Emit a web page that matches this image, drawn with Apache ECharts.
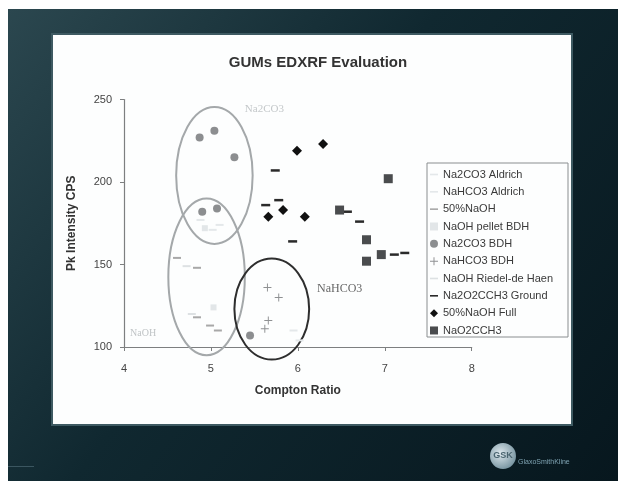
<!DOCTYPE html>
<html>
<head>
<meta charset="utf-8">
<script src="https://cdn.jsdelivr.net/npm/echarts@6/dist/echarts.min.js"></script>
<style>
  html, body { margin: 0; padding: 0; background: #fff; }
  #chart { width: 618px; height: 481px; }
</style>
</head>
<body>
<div id="chart"></div>
<script>
// Compton ratio (x) vs peak intensity in CPS (y) for each sample type
const na2co3Aldrich   = [[4.88, 177], [5.10, 174], [5.02, 171]];
const nahco3Aldrich   = [[5.95, 110], [6.02, 104]];
const naoh50          = [[4.61, 154], [4.84, 148], [4.84, 118], [4.99, 113], [5.08, 110]];
const naohPelletBDH   = [[5.03, 124], [4.93, 172]];
const na2co3BDH       = [[4.87, 227], [5.04, 231], [5.27, 215], [4.90, 182], [5.07, 184], [5.45, 107]];
const nahco3BDH       = [[5.65, 136], [5.78, 130], [5.66, 116], [5.62, 111]];
const naohRiedel      = [[4.72, 149], [4.78, 120]];
const na2o2cch3Ground = [[5.74, 207], [5.78, 189], [5.63, 186], [5.94, 164], [6.57, 182], [6.71, 176], [7.11, 156], [7.23, 157]];
const naohFull50      = [[5.99, 219], [6.29, 223], [5.66, 179], [5.83, 183], [6.08, 179]];
const nao2cch3        = [[7.04, 202], [6.48, 183], [6.79, 165], [6.79, 152], [6.96, 156]];

const xTicks = [4, 5, 6, 7, 8];
const yTicks = [100, 150, 200, 250];

// Group outlines in data units: centre x, centre y, half-width, half-height
const groups = [
  { name: 'Na2CO3', cx: 5.04, cy: 204, rx: 0.44, ry: 41.5, color: '#a4a8aa', label: [5.39, 244], labelColor: '#c4c8ca', size: 11 },
  { name: 'NaOH',   cx: 4.95, cy: 142.5, rx: 0.44, ry: 47.5, color: '#a4a8aa', label: [4.07, 108.5], labelColor: '#c0c4c6', size: 10 },
  { name: 'NaHCO3', cx: 5.70, cy: 123, rx: 0.43, ry: 30.6, color: '#2e2e2e', label: [6.22, 135], labelColor: '#666', size: 12 }
];

const dashPath = 'path://M0,0 L10,0 L10,2 L0,2 Z';
const plusPath = 'path://M4.4,0 L5.6,0 L5.6,4.4 L10,4.4 L10,5.6 L5.6,5.6 L5.6,10 L4.4,10 L4.4,5.6 L0,5.6 L0,4.4 L4.4,4.4 Z';

function sc(name, data, symbol, size, color) {
  return {
    name: name, type: 'scatter', data: data, symbol: symbol, symbolSize: size,
    itemStyle: { color: color, opacity: 1 }, emphasis: { disabled: true }
  };
}

const series = [
  sc('Na2CO3 Aldrich', na2co3Aldrich, dashPath, [8, 2], '#e4e8ea'),
  sc('NaHCO3 Aldrich', nahco3Aldrich, dashPath, [8, 2], '#e4e8ea'),
  sc('50%NaOH', naoh50, dashPath, [8, 2], '#a8a8a8'),
  sc('NaOH pellet BDH', naohPelletBDH, 'rect', 6, '#e2e6e8'),
  sc('Na2CO3 BDH', na2co3BDH, 'circle', 8, '#8c8e90'),
  sc('NaHCO3 BDH', nahco3BDH, plusPath, 8, '#8e9092'),
  sc('NaOH Riedel-de Haen', naohRiedel, dashPath, [8, 2], '#dde1e3'),
  sc('Na2O2CCH3 Ground', na2o2cch3Ground, dashPath, [9, 2.5], '#2a2a2a'),
  sc('50%NaOH Full', naohFull50, 'diamond', 10, '#111111'),
  sc('NaO2CCH3', nao2cch3, 'rect', 9, '#4a4c4e')
];

const chart = echarts.init(document.getElementById('chart'), null, { renderer: 'canvas' });

const baseGraphic = [
  // white margins and slide panel
  { id: 'mL', type: 'rect', shape: { x: 0, y: 0, width: 8, height: 481 }, style: { fill: '#ffffff' }, z: -5 },
  { id: 'mT', type: 'rect', shape: { x: 0, y: 0, width: 618, height: 9 }, style: { fill: '#ffffff' }, z: -5 },
  { id: 'panelEdge', type: 'rect', shape: { x: 51, y: 33, width: 522, height: 393 }, style: { fill: '#3e5a62' }, z: -4 },
  { id: 'panel', type: 'rect', shape: { x: 53, y: 35, width: 518, height: 389 }, style: { fill: '#fdfefe' }, z: -3 },
  // legend frame
  { id: 'legendBox', type: 'rect', shape: { x: 427, y: 163, width: 141, height: 174 }, style: { fill: 'none', stroke: '#8a8e90', lineWidth: 1 }, z: 3 },
  // logo
  { id: 'logo', type: 'circle', shape: { cx: 503, cy: 456, r: 13 },
    style: { fill: { type: 'radial', x: 0.4, y: 0.4, r: 0.7, colorStops: [{ offset: 0, color: '#dfe9ee' }, { offset: 1, color: '#6d8c99' }] } }, z: 2 },
  { id: 'logoT', type: 'text', x: 503, y: 456, style: { text: 'GSK', fill: '#4a6570', font: 'bold 9px "Liberation Sans", Arial', align: 'center', verticalAlign: 'middle' }, z: 3 },
  { id: 'logoN', type: 'text', x: 518, y: 462, style: { text: 'GlaxoSmithKline', fill: '#7fa3b2', font: '7px "Liberation Sans", Arial', align: 'left', verticalAlign: 'middle' }, z: 3 },
  { id: 'deco', type: 'rect', shape: { x: 8, y: 466, width: 26, height: 1 }, style: { fill: '#3b5660' }, z: 2 }
];

chart.setOption({
  animation: false,
  backgroundColor: {
    type: 'linear', x: 0, y: 0, x2: 1, y2: 1,
    colorStops: [{ offset: 0, color: '#2c4850' }, { offset: 0.45, color: '#102830' }, { offset: 1, color: '#07171e' }]
  },
  title: {
    text: 'GUMs EDXRF Evaluation', left: 313, top: 50, textAlign: 'center',
    textStyle: { fontFamily: '"Liberation Sans", Arial', fontWeight: 'bold', fontSize: 15, color: '#333' }
  },
  grid: { left: 124, right: 146.3, top: 99.5, bottom: 134, containLabel: false },
  xAxis: {
    type: 'value', min: xTicks[0], max: xTicks[xTicks.length - 1], interval: 1,
    name: 'Compton Ratio', nameLocation: 'middle', nameGap: 38,
    nameTextStyle: { fontFamily: '"Liberation Sans", Arial', fontWeight: 'bold', fontSize: 12, color: '#333' },
    axisLine: { onZero: false, lineStyle: { color: '#7d7f80', width: 1.2 } },
    axisTick: { show: true, length: 4, lineStyle: { color: '#7d7f80' } },
    axisLabel: { margin: 16, fontFamily: '"Liberation Sans", Arial', fontSize: 11, color: '#444' },
    splitLine: { show: false }
  },
  yAxis: {
    type: 'value', min: yTicks[0], max: yTicks[yTicks.length - 1], interval: 50,
    name: 'Pk Intensity CPS', nameLocation: 'middle', nameGap: 46,
    nameTextStyle: { fontFamily: '"Liberation Sans", Arial', fontWeight: 'bold', fontSize: 12, color: '#333' },
    axisLine: { show: true, onZero: false, lineStyle: { color: '#7d7f80', width: 1.2 } },
    axisTick: { show: true, length: 4, lineStyle: { color: '#7d7f80' } },
    axisLabel: { margin: 12, fontFamily: '"Liberation Sans", Arial', fontSize: 11, color: '#444' },
    splitLine: { show: false }
  },
  legend: {
    orient: 'vertical', left: 430, top: 169, padding: 0,
    itemWidth: 8, itemHeight: 8, itemGap: 6.33,
    textStyle: { fontFamily: '"Liberation Sans", Arial', fontSize: 11, lineHeight: 11, color: '#3a3a3a' },
    selectedMode: false,
    data: series.map(s => s.name)
  },
  series: series,
  graphic: baseGraphic
});

// Group outlines and their labels, placed through the axis scales
const px = p => chart.convertToPixel({ gridIndex: 0 }, p);
const extra = [];
groups.forEach((g, i) => {
  const c = px([g.cx, g.cy]);
  const e = px([g.cx + g.rx, g.cy + g.ry]);
  extra.push({
    id: 'ell' + i, type: 'ellipse',
    shape: { cx: c[0], cy: c[1], rx: Math.abs(e[0] - c[0]), ry: Math.abs(e[1] - c[1]) },
    style: { fill: 'none', stroke: g.color, lineWidth: 2 }, z: 1
  });
  const l = px(g.label);
  extra.push({
    id: 'lab' + i, type: 'text', x: l[0], y: l[1],
    style: { text: g.name, fill: g.labelColor, font: g.size + 'px "Liberation Serif", "Times New Roman", serif', align: 'left', verticalAlign: 'middle' },
    z: 1
  });
});
chart.setOption({ graphic: baseGraphic.concat(extra) });
</script>
</body>
</html>
